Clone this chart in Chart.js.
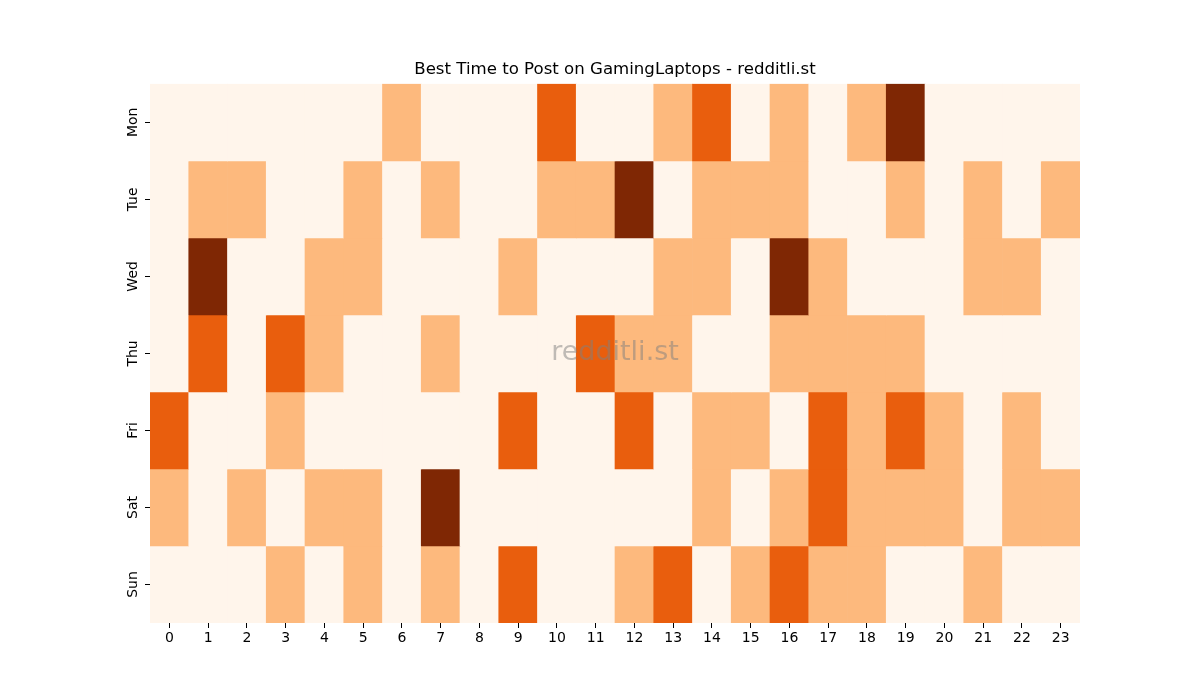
<!DOCTYPE html>
<html>
<head>
<meta charset="utf-8">
<script src="https://cdn.jsdelivr.net/npm/chart.js@4/dist/chart.umd.min.js"></script>
<style>
  html, body { margin: 0; padding: 0; background: #fff; }
  #wrap { width: 1200px; height: 700px; }
</style>
</head>
<body>
<div id="wrap"><canvas id="heatmap" width="1200" height="700"></canvas></div>
<script>
const days = ['Mon', 'Tue', 'Wed', 'Thu', 'Fri', 'Sat', 'Sun'];
const hours = ['0','1','2','3','4','5','6','7','8','9','10','11','12','13','14','15','16','17','18','19','20','21','22','23'];

// activity level per hour (0 = low .. 3 = best)
const mon = [0,0,0,0,0,0,1,0,0,0,2,0,0,1,2,0,1,0,1,3,0,0,0,0];
const tue = [0,1,1,0,0,1,0,1,0,0,1,1,3,0,1,1,1,0,0,1,0,1,0,1];
const wed = [0,3,0,0,1,1,0,0,0,1,0,0,0,1,1,0,3,1,0,0,0,1,1,0];
const thu = [0,2,0,2,1,0,0,1,0,0,0,2,1,1,0,0,1,1,1,1,0,0,0,0];
const fri = [2,0,0,1,0,0,0,0,0,2,0,0,2,0,1,1,0,2,1,2,1,0,1,0];
const sat = [1,0,1,0,1,1,0,3,0,0,0,0,0,0,1,0,1,2,1,1,1,0,1,1];
const sun = [0,0,0,1,0,1,0,1,0,2,0,0,1,2,0,1,2,1,1,0,0,1,0,0];

const rows = [mon, tue, wed, thu, fri, sat, sun];
const palette = ['#fff5eb', '#fdb97d', '#e95e0d', '#7f2704'];

const datasets = rows.map(function(row, i) {
    return {
        label: days[i],
        data: row.map(() => [i, i + 1]),
        backgroundColor: row.map(v => palette[v]),
        borderWidth: 0,
        barPercentage: 1,
        categoryPercentage: 1,
        grouped: false
    };
});

// y tick labels drawn rotated, like the original
const dayLabels = {
    id: 'dayLabels',
    afterDraw(chart) {
        const ctx = chart.ctx;
        const y = chart.scales.y;
        ctx.save();
        ctx.font = '14px "DejaVu Sans"';
        ctx.fillStyle = '#000';
        ctx.textAlign = 'center';
        ctx.textBaseline = 'middle';
        days.forEach(function(d, i) {
            const py = y.getPixelForValue(i + 0.5);
            ctx.save();
            ctx.translate(chart.chartArea.left - 17, py);
            ctx.rotate(-Math.PI / 2);
            ctx.fillText(d, 0, 0);
            ctx.restore();
        });
        ctx.restore();
    }
};

const watermark = {
    id: 'watermark',
    afterDatasetsDraw(chart) {
        const a = chart.chartArea;
        const ctx = chart.ctx;
        ctx.save();
        ctx.font = '27px "DejaVu Sans"';
        ctx.fillStyle = 'rgba(128,128,128,0.5)';
        ctx.textAlign = 'center';
        ctx.textBaseline = 'middle';
        ctx.fillText('redditli.st', (a.left + a.right) / 2, (a.top + a.bottom) / 2);
        ctx.restore();
    }
};

new Chart(document.getElementById('heatmap').getContext('2d'), {
    type: 'bar',
    data: { labels: hours, datasets: datasets },
    plugins: [dayLabels, watermark],
    options: {
        responsive: false,
        animation: false,
        layout: { padding: { top: 60, right: 0, bottom: 0, left: 30 } },
        plugins: {
            legend: { display: false },
            tooltip: { enabled: false },
            title: {
                display: true,
                text: 'Best Time to Post on GamingLaptops - redditli.st',
                color: '#000',
                font: { family: 'DejaVu Sans', size: 16.6, weight: 'normal' },
                padding: { top: 0, bottom: 3.9 }
            }
        },
        scales: {
            x: {
                offset: true,
                grid: { offset: false, drawOnChartArea: false, drawTicks: true, tickLength: 5, color: '#000', lineWidth: 1 },
                border: { display: false },
                ticks: { color: '#000', font: { family: 'DejaVu Sans', size: 14 }, padding: 2, maxRotation: 0, autoSkip: false },
                afterFit(scale) { scale.height = 77; }
            },
            y: {
                min: 0,
                max: 7,
                reverse: true,
                afterBuildTicks(scale) {
                    scale.ticks = days.map((d, i) => ({ value: i + 0.5 }));
                },
                grid: { drawOnChartArea: false, drawTicks: true, tickLength: 5, color: '#000', lineWidth: 1 },
                border: { display: false },
                ticks: { display: false },
                afterFit(scale) { scale.width = 120; }
            },
            // empty right margin so the title centres over the plot
            pad: {
                type: 'linear',
                position: 'right',
                grid: { display: false },
                border: { display: false },
                ticks: { display: false },
                afterFit(scale) { scale.width = 120; }
            }
        }
    }
});
</script>
</body>
</html>
